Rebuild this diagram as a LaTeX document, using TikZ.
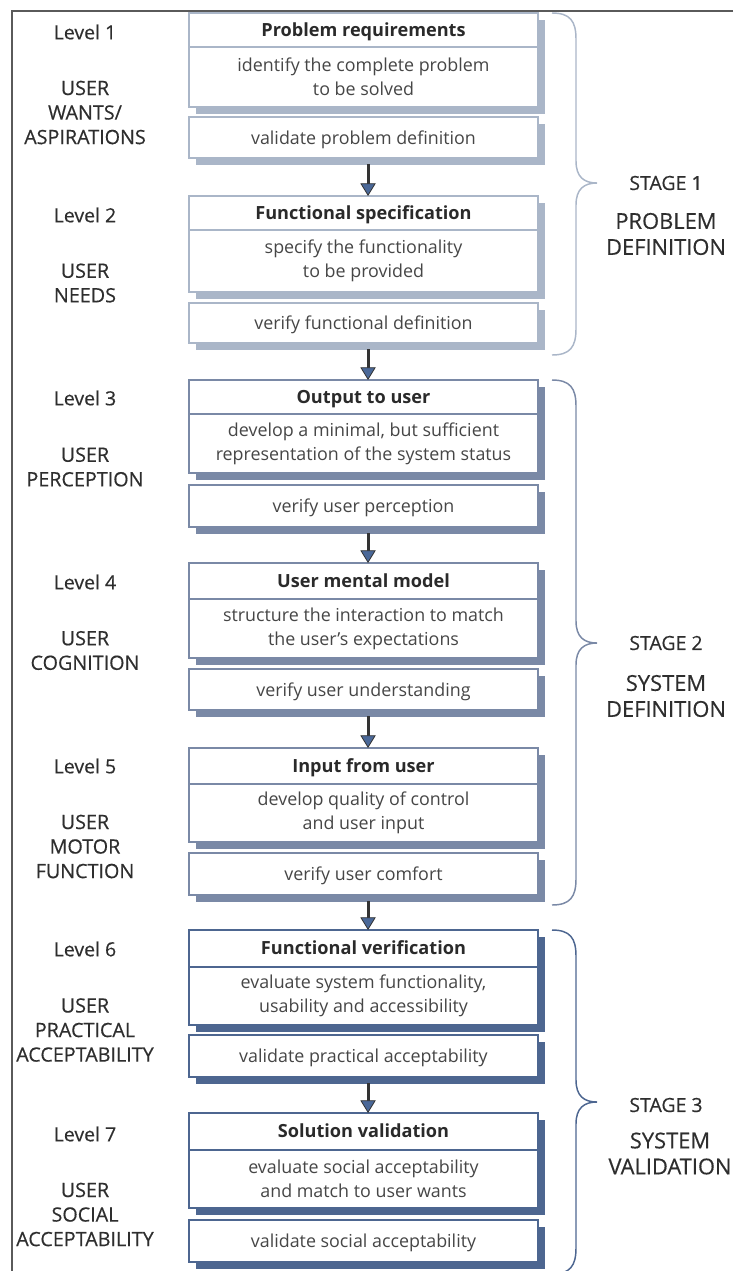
\documentclass[tikz,border=0pt]{standalone}
\usepackage{fontspec}
\setmainfont{Open Sans}
\newfontfamily\lblfam{Open Sans}[FakeBold=0.4]
\usetikzlibrary{arrows.meta}
\definecolor{sA}{HTML}{AAB6C8}
\definecolor{sB}{HTML}{7A89A6}
\definecolor{sC}{HTML}{4D6690}
\definecolor{ttlc}{HTML}{2A2A2A}
\definecolor{dscc}{HTML}{464646}
\definecolor{lblc}{HTML}{2E2E2E}
\definecolor{framec}{HTML}{5A5A5A}
\definecolor{headc}{HTML}{4A6898}
\definecolor{arrc}{HTML}{333333}
\newcommand\ttlfont{\fontsize{13.6}{15}\selectfont\bfseries}
\newcommand\dscfont{\fontsize{13.4}{18}\selectfont}
\newcommand\lvlfont{\lblfam\fontsize{14.6}{15}\selectfont}
\newcommand\usrfont{\lblfam\fontsize{14.8}{18.4}\selectfont}
\newcommand\stgfont{\lblfam\fontsize{14.6}{15}\selectfont}
\newcommand\stnfont{\lblfam\fontsize{16.4}{19.5}\selectfont}
\tikzset{
  bx/.style={draw=#1, fill=white, line width=1pt, inner sep=0pt, outer sep=0pt,
    minimum width=349*0.75pt, align=center, anchor=north west},
  ttl/.style={font=\ttlfont, text=ttlc, text height=0.9em, text depth=0pt},
  dsc/.style={font=\dscfont, text=dscc},
  one/.style={text height=1.0em, text depth=0pt},
  lvl/.style={font=\lvlfont, text=lblc, align=center, inner sep=0pt},
  usr/.style={font=\usrfont, text=lblc, align=center, inner sep=0pt},
  stg/.style={font=\stgfont, text=lblc, align=center, inner sep=0pt},
  stn/.style={font=\stnfont, text=lblc, align=center, inner sep=0pt},
  arr/.style={draw=arrc, line width=2.2pt,
    -{Triangle[width=11.5pt,length=9.5pt,fill=headc,line width=0.6pt]}},
  frm/.style={draw=framec, line width=1.8pt},
}
% #1 id, #2 top, #3 divider, #4 bottom, #5 colour, #6 title, #7 description
\newcommand\mainbox[7]{%
  \fill[#5] (196,#2+7) rectangle (545,#4+7);
  \node[bx=#5, ttl, minimum height={(#3-#2)*0.75pt}] (t#1) at (189,#2) {#6};
  \node[bx=#5, dsc, minimum height={(#4-#3)*0.75pt}] (d#1) at (189,#3) {#7};
}
% #1 id, #2 top, #3 bottom, #4 colour, #5 text
\newcommand\verbox[5]{%
  \fill[#4] (196,#2+7) rectangle (545,#3+7);
  \node[bx=#4, dsc, one, minimum height={(#3-#2)*0.75pt}] (v#1) at (189,#2) {#5};
}
% #1 top, #2 tip, #3 bottom, #4 colour
\newcommand\stagebrace[4]{%
  \draw[#4, line width=1.1pt] (552,#1) .. controls (570,#1) and (576,#1+8) .. (576,#1+26)
    -- (576,#2-22) .. controls (576,#2-6) and (584,#2) .. (597,#2)
    .. controls (584,#2) and (576,#2+6) .. (576,#2+22)
    -- (576,#3-26) .. controls (576,#3-8) and (570,#3) .. (552,#3);
}
\begin{document}
\begin{tikzpicture}[x=0.75pt,y=-0.75pt]
\useasboundingbox (0,0) rectangle (733,1271);
% frame
\coordinate (fa) at (733,11);
\coordinate (fb) at (12,11);
\coordinate (fc) at (12,1272);
\draw[frm] (fa) -- (fb) -- (fc);

% Level 1
\mainbox{1}{13}{47}{107}{sA}{Problem requirements}{identify the complete problem\\to be solved}
\verbox{1}{117}{158}{sA}{validate problem definition}
% Level 2
\mainbox{2}{196}{230}{292}{sA}{Functional specification}{specify the functionality\\to be provided}
\verbox{2}{303}{343}{sA}{verify functional definition}
% Level 3
\mainbox{3}{380}{414}{473}{sB}{Output to user}{develop a minimal, but sufficient\\representation of the system status}
\verbox{3}{485}{527}{sB}{verify user perception}
% Level 4
\mainbox{4}{563}{599}{658}{sB}{User mental model}{structure the interaction to match\\the user's expectations}
\verbox{4}{669}{710}{sB}{verify user understanding}
% Level 5
\mainbox{5}{748}{784}{842}{sB}{Input from user}{develop quality of control\\and user input}
\verbox{5}{853}{895}{sB}{verify user comfort}
% Level 6
\mainbox{6}{930}{967}{1025}{sC}{Functional verification}{evaluate system functionality,\\usability and accessibility}
\verbox{6}{1035}{1077}{sC}{validate practical acceptability}
% Level 7
\mainbox{7}{1113}{1150}{1208}{sC}{Solution validation}{evaluate social acceptability\\and match to user wants}
\verbox{7}{1220}{1262}{sC}{validate social acceptability}

% arrows
\foreach \a/\b in {1/2,2/3,3/4,4/5,5/6,6/7}
  \draw[arr] ([xshift=3.4pt,yshift=-4.5pt]v\a.south) -- ([xshift=3.4pt]t\b.north);

% left labels
\node[lvl] (lv1) at (85,32) {Level 1};
\node[usr] (us1) at (85,112.5) {USER\\WANTS/\\ASPIRATIONS};
\node[lvl] (lv2) at (85,215) {Level 2};
\node[usr] (us2) at (85,283) {USER\\NEEDS};
\node[lvl] (lv3) at (85,398) {Level 3};
\node[usr] (us3) at (85,467) {USER\\PERCEPTION};
\node[lvl] (lv4) at (85,582) {Level 4};
\node[usr] (us4) at (85,650.5) {USER\\COGNITION};
\node[lvl] (lv5) at (85,766) {Level 5};
\node[usr] (us5) at (85,846.5) {USER\\MOTOR\\FUNCTION};
\node[lvl] (lv6) at (85,949) {Level 6};
\node[usr] (us6) at (85,1030) {USER\\PRACTICAL\\ACCEPTABILITY};
\node[lvl] (lv7) at (85,1134) {Level 7};
\node[usr] (us7) at (85,1214.5) {USER\\SOCIAL\\ACCEPTABILITY};

% braces
\stagebrace{13}{183}{355}{sA}
\stagebrace{380}{643}{905}{sB}
\stagebrace{930}{1102}{1274}{sC}

% stage labels
\node[stg] (sg1) at (666,183) {STAGE 1};
\node[stn] (sn1) at (666,234) {PROBLEM\\DEFINITION};
\node[stg] (sg2) at (666,643) {STAGE 2};
\node[stn] (sn2) at (666,696) {SYSTEM\\DEFINITION};
\node[stg] (sg3) at (666,1105) {STAGE 3};
\node[stn] (sn3) at (670,1153.5) {SYSTEM\\VALIDATION};
\end{tikzpicture}
\end{document}
